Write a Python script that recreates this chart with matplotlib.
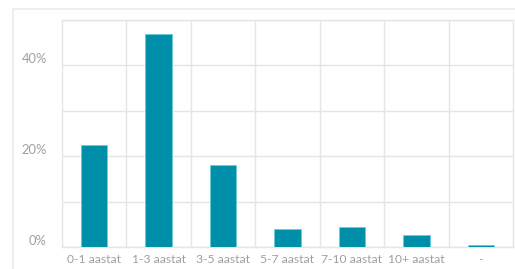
import matplotlib
matplotlib.use("Agg")
import matplotlib.pyplot as plt
import matplotlib.transforms as mtransforms
from matplotlib.patches import Rectangle

# data
categories = ["0-1 aastat", "1-3 aastat", "3-5 aastat", "5-7 aastat",
              "7-10 aastat", "10+ aastat", "-"]
shares = [22.5, 46.9, 18.1, 3.9, 4.4, 2.6, 0.4]
y_ticks = [0, 10, 20, 30, 40, 50]
y_labels = ["0%", "", "20%", "", "40%", ""]

bar_color = "#008fa8"
grid_color = "#e5e5e5"
text_color = "#9f9f9f"

plt.rcParams["font.family"] = ["Lato", "DejaVu Sans"]

fig = plt.figure(figsize=(5.15, 2.69), dpi=100)
fig.patches.append(
    Rectangle((13 / 515, -0.1), 1.2, (269 - 9) / 269 + 0.1,
              transform=fig.transFigure, fill=False,
              edgecolor="#ebebeb", linewidth=1.2)
)
ax = fig.add_axes([62 / 515, 22 / 269, 451 / 515, 227 / 269])

x = list(range(len(categories)))
ax.bar(x, shares, width=0.41, color=bar_color, edgecolor="#6ccbd9",
       linewidth=0.6, zorder=3)

ax.set_xlim(-0.5, len(categories) - 0.5)
ax.set_ylim(0, 50)
ax.set_yticks(y_ticks)
ax.set_yticklabels(y_labels)
ax.set_xticks([i + 0.5 for i in x[:-1]], minor=True)
ax.set_xticks(x)
ax.set_xticklabels(categories)

ax.grid(True, axis="y", color=grid_color, linewidth=1)
ax.grid(True, axis="x", which="minor", color=grid_color, linewidth=1)
ax.tick_params(axis="both", which="both", length=0, colors=text_color)
ax.tick_params(axis="x", pad=5, labelsize=8.7)
ax.tick_params(axis="y", pad=11, labelsize=9.3)
for spine in ax.spines.values():
    spine.set_color(grid_color)
    spine.set_linewidth(1)

# y labels sit a little above their gridlines
offset = mtransforms.ScaledTranslation(0, 7 / 100, fig.dpi_scale_trans)
for label in ax.get_yticklabels():
    label.set_transform(label.get_transform() + offset)

fig.savefig("out.png", dpi=100)
